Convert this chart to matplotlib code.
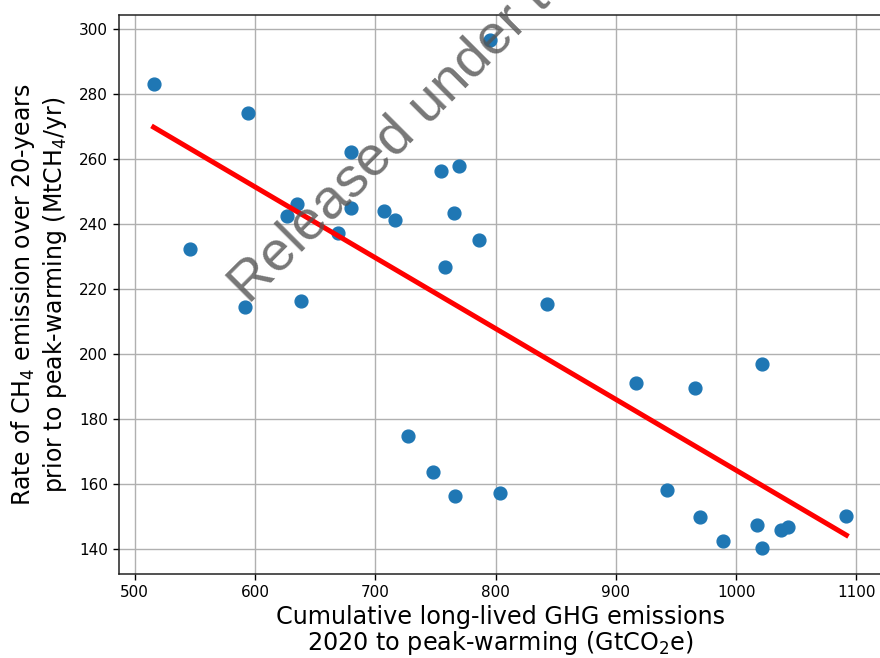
import numpy as np
import matplotlib
matplotlib.use("Agg")
import matplotlib.pyplot as plt

# Cumulative long-lived GHG emissions, 2020 to peak warming (GtCO2e)
cumulative_ghg = [
    515.8, 795.3, 594.5, 545.7, 591.4, 626.4, 634.9, 638.2, 668.7, 680.1,
    679.6, 707.6, 716.4, 754.4, 769.6, 765.7, 786.5, 758.0, 842.7, 727.5,
    748.3, 766.6, 804.0, 916.5, 965.8, 1021.2, 942.2, 969.7, 989.1, 1017.0,
    1021.8, 1037.3, 1043.4, 1091.6,
]
# Mean CH4 emission rate over the 20 years before peak warming (MtCH4/yr)
ch4_rate = [
    283.3, 296.6, 274.4, 232.5, 214.6, 242.7, 246.1, 216.5, 237.2, 262.3,
    245.0, 244.1, 241.4, 256.4, 258.0, 243.6, 235.2, 226.8, 215.6, 175.0,
    163.8, 156.3, 157.4, 191.2, 189.5, 197.0, 158.2, 150.0, 142.5, 147.4,
    140.3, 146.0, 146.9, 150.3,
]

x_ticks = [500, 600, 700, 800, 900, 1000, 1100]
y_ticks = [140, 160, 180, 200, 220, 240, 260, 280, 300]

x = np.asarray(cumulative_ghg)
y = np.asarray(ch4_rate)

fig = plt.figure(figsize=(8.8, 6.58), dpi=100)
ax = fig.add_axes([119 / 880, 84.3 / 658, 762 / 880, 558.7 / 658])

ax.scatter(x, y, s=85, color="#1f77b4", zorder=3)

# Least-squares linear fit across the range of the data
slope, intercept = np.polyfit(x, y, 1)
x_fit = np.array([x.min(), x.max()])
ax.plot(x_fit, slope * x_fit + intercept, color="red", linewidth=3.6, zorder=4)

ax.set_xticks(x_ticks)
ax.set_yticks(y_ticks)
ax.grid(True, color="#b0b0b0", linewidth=1.0)
ax.set_axisbelow(True)
ax.tick_params(labelsize=11, length=4.5, width=1.0)
for sp in ax.spines.values():
    sp.set_linewidth(1.1)
    sp.set_color("#222222")

ax.set_xlabel("Cumulative long-lived GHG emissions\n2020 to peak-warming (GtCO$_2$e)",
              fontsize=17.2, linespacing=0.98, labelpad=4)
ax.set_ylabel("Rate of CH$_4$ emission over 20-years\nprior to peak-warming (MtCH$_4$/yr)",
              fontsize=17.0, linespacing=1.2, labelpad=7)

# Diagonal release stamp across the plot
fig.text(249 / 880, 1 - 305 / 658, "Released under the Official Information Act 1982",
         rotation=45, rotation_mode="anchor", ha="left", va="baseline",
         fontsize=40.5, family="Liberation Sans", color="#555555", alpha=0.8,
         zorder=10)

fig.savefig("out.png", dpi=100)
